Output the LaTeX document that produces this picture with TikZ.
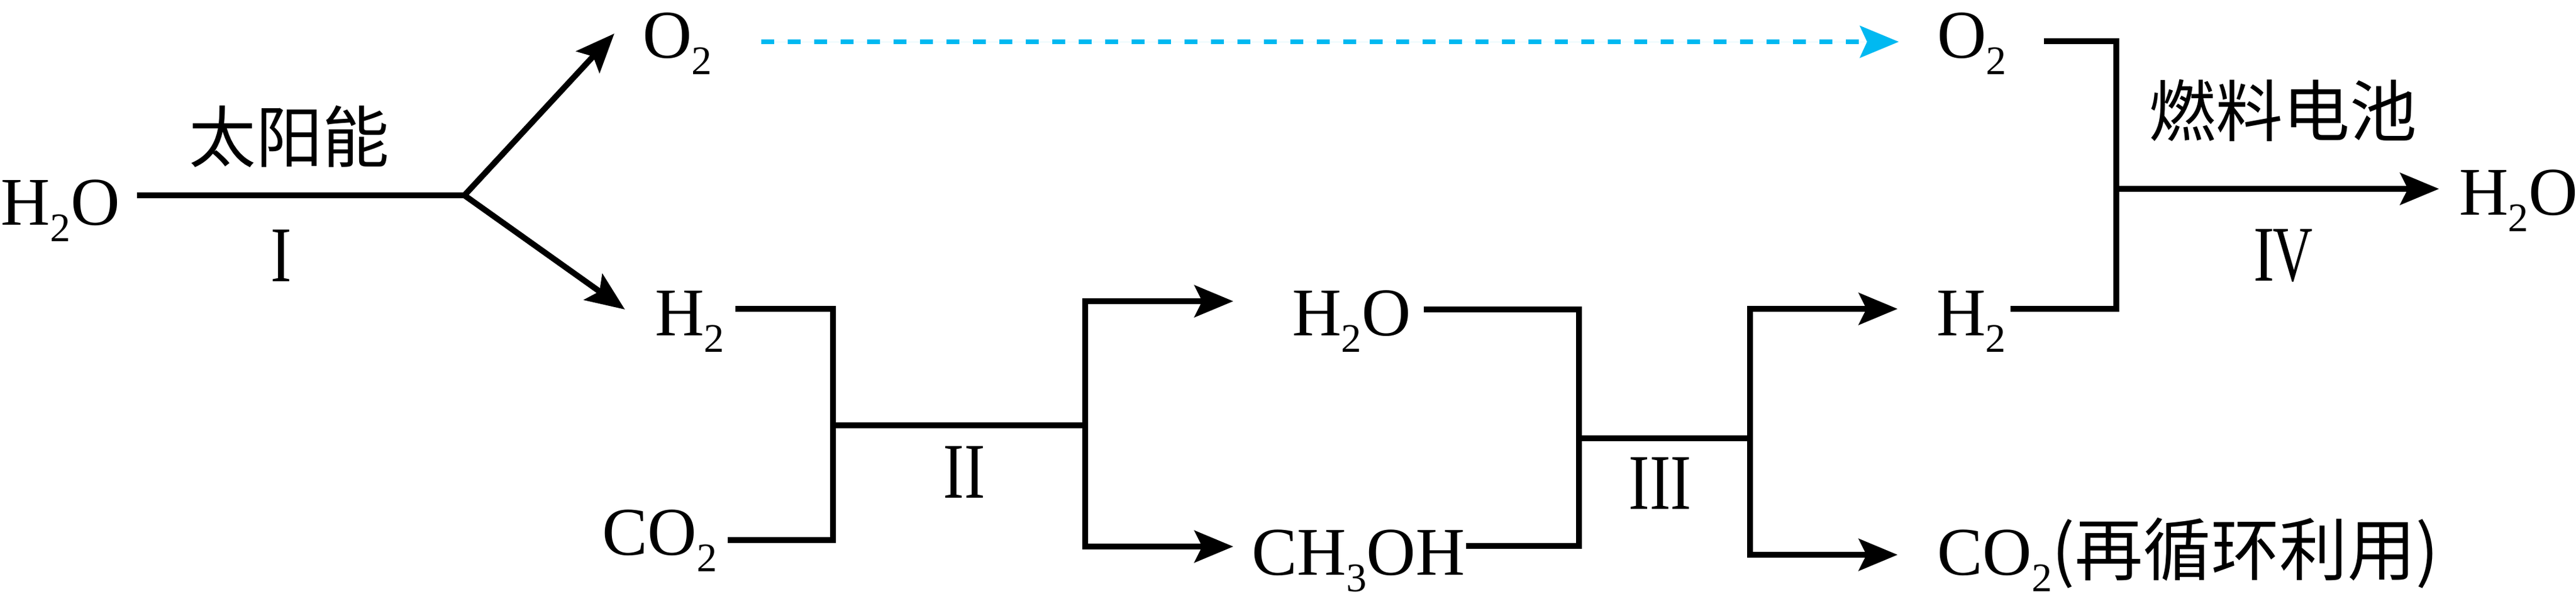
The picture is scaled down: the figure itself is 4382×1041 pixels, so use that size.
\documentclass[tikz,border=0pt]{standalone}
\usepackage{fontspec}
\setmainfont{Liberation Serif}
\newfontfamily\cjk{Noto Sans CJK SC}
\usetikzlibrary{arrows.meta}
\newcommand\chsub[1]{\raisebox{-2.8pt}{\fontsize{6.9pt}{7pt}\selectfont #1}}
\newcommand\rI{\scalebox{0.8}[1]{I}}
\newcommand\rV{\scalebox{0.7}[1]{V}}
\tikzset{
  ln/.style={draw=black, line width=1pt, line join=miter},
  arr/.style={-{Stealth[length=6.6pt,width=5.4pt,inset=1.3pt]}},
  arrs/.style={{Stealth[length=6.6pt,width=5.4pt,inset=1.3pt]}-{Stealth[length=6.6pt,width=5.4pt,inset=1.3pt]}},
  chem/.style={inner sep=0pt, anchor=base west, font=\fontsize{11.6pt}{12pt}\selectfont},
  cjklab/.style={inner sep=0pt, font=\fontsize{11.4pt}{12pt}\selectfont\cjk},
  roman/.style={inner sep=0pt, font=\fontsize{13.4pt}{14pt}\selectfont},
  blued/.style={draw={rgb,255:red,0;green,185;blue,241}, line width=0.8pt, dash pattern=on 2.2pt off 2.3pt,
     -{Stealth[length=6.6pt,width=5.4pt,inset=1.2pt]}, fill={rgb,255:red,0;green,185;blue,241}}
}
\begin{document}
\begin{tikzpicture}[x=0.1pt,y=-0.1pt]
\useasboundingbox (0,0) rectangle (4382,1041);
% nodes
\node[chem] (h2oA) at (0,382) {H\chsub{2}O};
\node[chem] (o2A) at (1091,98) {O\chsub{2}};
\node[chem] (h2A) at (1112,570) {H\chsub{2}};
\node[chem] (co2A) at (1022,943) {CO\chsub{2}};
\node[chem] (h2oB) at (2196,570) {H\chsub{2}O};
\node[chem] (ch3oh) at (2127,977) {CH\chsub{3}OH};
\node[chem] (o2B) at (3293,98) {O\chsub{2}};
\node[chem] (h2B) at (3292,570) {H\chsub{2}};
\node[chem] (h2oC) at (4181,365) {H\chsub{2}O};
\node[chem] (co2B) at (3293,977) {CO\chsub{2}{\cjk (再循环利用)}};
\node[cjklab] (sun) at (492,232) {太阳能};
\node[cjklab] (fc) at (3883,188) {燃料电池};
\node[roman] (r1) at (478,435) {\rI};
\node[roman] (r2) at (1640,803) {\rI\rI};
\node[roman] (r3) at (2824,822) {\rI\rI\rI};
\node[roman] (r4) at (3884,435) {\rI\kern-0.02em\rV};
% coordinates
\coordinate (a0) at (233,332);
\coordinate (j1) at (790,332);
\coordinate (t1) at (1045,57);
\coordinate (t2) at (1063,526);
\coordinate (b0) at (1251,525);
\coordinate (b1) at (1417,525);
\coordinate (b2) at (1417,918);
\coordinate (b3) at (1238,918);
\coordinate (bm) at (1417,723);
\coordinate (bn) at (1846,723);
\coordinate (c0) at (2098,512);
\coordinate (c1) at (1846,512);
\coordinate (c2) at (1846,929);
\coordinate (c3) at (2098,929);
\coordinate (d0) at (2422,526);
\coordinate (d1) at (2686,526);
\coordinate (d2) at (2686,928);
\coordinate (d3) at (2494,928);
\coordinate (dm) at (2686,745);
\coordinate (dn) at (2977,745);
\coordinate (e0) at (3228,525);
\coordinate (e1) at (2977,525);
\coordinate (e2) at (2977,943);
\coordinate (e3) at (3228,943);
\coordinate (f0) at (3477,70);
\coordinate (f1) at (3600,70);
\coordinate (f2) at (3600,525);
\coordinate (f3) at (3420,525);
\coordinate (fm) at (3600,321);
\coordinate (fn) at (4149,321);
\coordinate (g0) at (1295,71);
\coordinate (g1) at (3230,71);
% connectors
\draw[ln] (a0) -- (j1);
\draw[ln,arr] (j1) -- (t1);
\draw[ln,arr] (j1) -- (t2);
\draw[ln] (b0) -- (b1) -- (b2) -- (b3);
\draw[ln] (bm) -- (bn);
\draw[ln,arrs] (c0) -- (c1) -- (c2) -- (c3);
\draw[ln] (d0) -- (d1) -- (d2) -- (d3);
\draw[ln] (dm) -- (dn);
\draw[ln,arrs] (e0) -- (e1) -- (e2) -- (e3);
\draw[ln] (f0) -- (f1) -- (f2) -- (f3);
\draw[ln,arr] (fm) -- (fn);
\draw[blued] (g0) -- (g1);
\end{tikzpicture}
\end{document}
